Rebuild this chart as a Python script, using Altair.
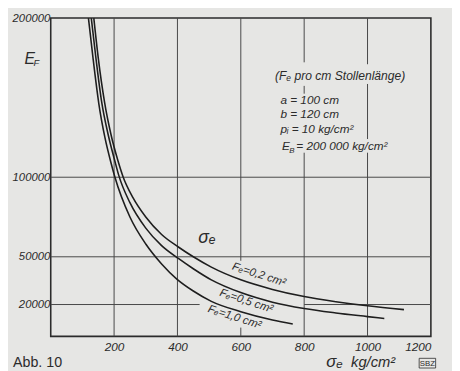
import altair as alt
import pandas as pd

# ---- data ----
sigma_02 = [136, 150, 170, 190, 212, 228, 260, 300, 350, 404, 450, 507, 600, 700, 800, 900, 1000, 1115]
E_02 = [200000, 175000, 147000, 127000, 110500, 100500, 87000, 75000, 64000, 56000, 50000, 43500, 35500, 29500, 25000, 21800, 19200, 16800]

sigma_05 = [128, 142, 161, 181, 202, 215, 250, 300, 350, 404, 450, 507, 600, 700, 800, 900, 1000, 1053]
E_05 = [200000, 176000, 147000, 127000, 110500, 101000, 84000, 68000, 57000, 48800, 42500, 35500, 27500, 21500, 17500, 14700, 12400, 11200]

sigma_10 = [119, 134, 152, 171, 191, 202, 250, 300, 350, 398, 450, 507, 600, 700, 764]
E_10 = [200000, 174000, 146000, 125000, 108500, 100500, 75000, 58000, 45500, 36000, 28500, 22000, 15500, 10300, 7800]

x_ticks = [200, 400, 600, 800, 1000, 1200]
y_ticks = [20000, 50000, 100000, 200000]

# grid segments (the scan's grid is interrupted where text sits)
vgrid_x = [200, 400, 600, 600, 800, 800, 800, 1000, 1000, 1000]
vgrid_y1 = [0, 0, 47500, 0, 0, 152500, 172200, 0, 158600, 171000]
vgrid_y2 = [200000, 200000, 200000, 5500, 115400, 157400, 200000, 115400, 124000, 200000]
hgrid_y = [20000, 20000, 50000, 100000]
hgrid_x1 = [0, 800, 0, 0]
hgrid_x2 = [470, 1200, 1200, 1200]

curves = pd.DataFrame(
    [{"Fe": "0.2", "sigma": s, "E": e} for s, e in zip(sigma_02, E_02)]
    + [{"Fe": "0.5", "sigma": s, "E": e} for s, e in zip(sigma_05, E_05)]
    + [{"Fe": "1.0", "sigma": s, "E": e} for s, e in zip(sigma_10, E_10)]
)

INK = "#2b2b2b"
FONT = "Liberation Sans"
xs = alt.Scale(domain=[0, 1200], nice=False, zero=False)
ys = alt.Scale(domain=[0, 200000], nice=False, zero=False)

vgrid = pd.DataFrame({"x": vgrid_x, "y1": vgrid_y1, "y2": vgrid_y2})
hgrid = pd.DataFrame({"y": hgrid_y, "x1": hgrid_x1, "x2": hgrid_x2})

grid_v = alt.Chart(vgrid).mark_rule(color="#474747", strokeWidth=1).encode(
    x=alt.X("x:Q", scale=xs,
            axis=alt.Axis(values=x_ticks, grid=False, domain=False, ticks=False, format="d",
                          labelFont=FONT, labelFontStyle="italic", labelFontSize=12,
                          labelColor=INK, labelPadding=5, title=None)),
    y=alt.Y("y1:Q", scale=ys,
            axis=alt.Axis(values=y_ticks, grid=False, domain=False, ticks=False,
                          labelFont=FONT, labelFontStyle="italic", labelFontSize=11.5,
                          labelColor=INK, labelPadding=1, format="d", title=None)),
    y2="y2:Q",
)
grid_h = alt.Chart(hgrid).mark_rule(color="#474747", strokeWidth=1).encode(
    y=alt.Y("y:Q", scale=ys), x=alt.X("x1:Q", scale=xs), x2="x2:Q"
)

lines = alt.Chart(curves).mark_line(
    color="#1e1e1e", strokeWidth=1.6, interpolate="monotone", clip=True
).encode(
    x=alt.X("sigma:Q", scale=xs),
    y=alt.Y("E:Q", scale=ys),
    detail="Fe:N",
)

def txt(df, **kw):
    base = dict(font=FONT, color=INK, fontStyle="italic", align="left", baseline="alphabetic")
    base.update(kw)
    return alt.Chart(pd.DataFrame(df)).mark_text(**base).encode(
        x=alt.X("x:Q", scale=xs), y=alt.Y("y:Q", scale=ys), text="t:N"
    )

info_lines = txt({"t": ["(Fₑ pro cm Stollenlänge)"], "x": [708], "y": [161000]}, fontSize=12.3)
info_a = txt({"t": ["a =  100 cm", "b =  120 cm", "pᵢ =  10 kg/cm²"],
              "x": [725, 725, 725], "y": [145700, 137000, 127800]}, fontSize=12)
info_e = txt({"t": ["E"], "x": [730], "y": [117300]}, fontSize=12)
info_b = txt({"t": ["B"], "x": [753], "y": [115500]}, fontSize=8)
info_r = txt({"t": ["=  200 000 kg/cm²"], "x": [775], "y": [117300]}, fontSize=12)

ef_e = txt({"t": ["E"], "x": [-83], "y": [171000]}, fontSize=16)
ef_f = txt({"t": ["F"], "x": [-54], "y": [169800]}, fontSize=9.5)

sig_lbl = txt({"t": ["σₑ"], "x": [466], "y": [58500]}, fontSize=18)

fe_lbls = alt.Chart(pd.DataFrame({
    "t": ["Fₑ=0,2 cm²", "Fₑ=0,5 cm²", "Fₑ=1,0 cm²"],
    "x": [657, 617, 580],
    "y": [38600, 22000, 11900],
})).mark_text(font=FONT, color=INK, fontStyle="italic", fontSize=11.5, angle=18,
              align="center", baseline="middle").encode(
    x=alt.X("x:Q", scale=xs), y=alt.Y("y:Q", scale=ys), text="t:N")

x_sig = txt({"t": ["σₑ"], "x": [870], "y": [-19000]}, fontSize=17)
x_unit = txt({"t": ["kg/cm²"], "x": [948], "y": [-19000]}, fontSize=15)
abb = txt({"t": ["Abb. 10"], "x": [-119], "y": [-19000]}, fontSize=14.5, fontStyle="normal")
sbz = txt({"t": ["SBZ"], "x": [1189], "y": [-18600]}, fontSize=8, fontStyle="normal", align="center")
sbz_box = alt.Chart(pd.DataFrame({"x": [1163], "x2": [1215], "y": [-13800], "y2": [-19900]})).mark_rect(
    fill=None, stroke=INK, strokeWidth=0.8).encode(
    x=alt.X("x:Q", scale=xs), x2="x2:Q", y=alt.Y("y:Q", scale=ys), y2="y2:Q")

chart = alt.layer(
    grid_v, grid_h, lines, info_lines, info_a, info_e, info_b, info_r,
    ef_e, ef_f, sig_lbl, fe_lbls, x_sig, x_unit, abb, sbz, sbz_box
).properties(
    width=387, height=324,
    background="#e6e6e4",
    padding={"left": 43.5, "top": 7, "right": 21.5, "bottom": 32},
    autosize=alt.AutoSizeParams(type="none"),
).configure_view(stroke="#2b2b2b", strokeWidth=1.6)

chart.save("out.html", embed_options={"renderer": "svg", "actions": False})
